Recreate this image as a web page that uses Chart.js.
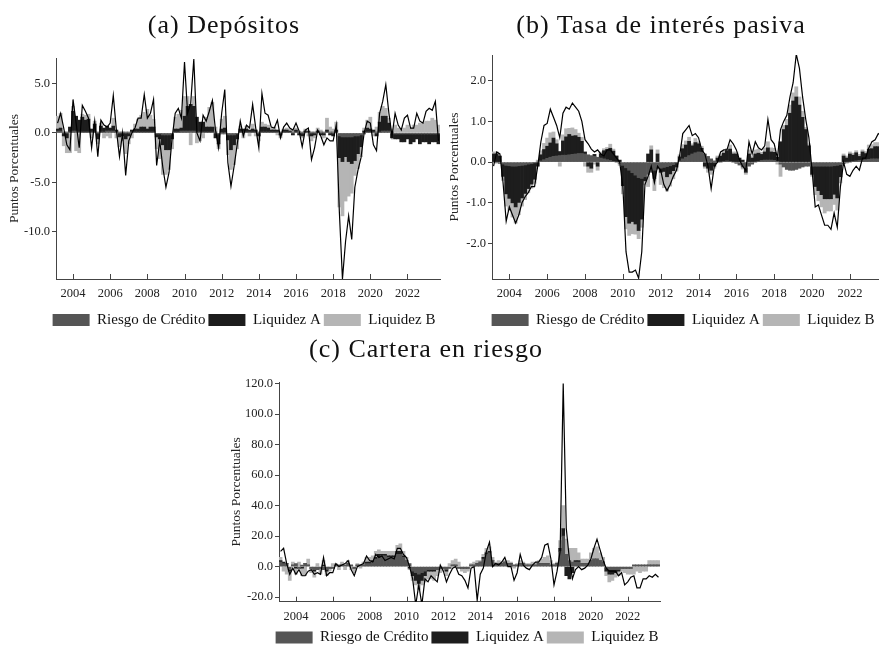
<!DOCTYPE html>
<html lang="es">
<head>
<meta charset="utf-8">
<script src="https://cdn.jsdelivr.net/npm/chart.js@4.4.1/dist/chart.umd.min.js"></script>
<style>
  html, body { margin: 0; padding: 0; background: #fff; }
  body { position: relative; width: 879px; height: 650px; overflow: hidden; }
  canvas { position: absolute; }
  .titulo {
    position: absolute; white-space: nowrap; transform: translateX(-50%);
    font-family: "Liberation Serif", serif; font-size: 26px; letter-spacing: 1px;
    line-height: 26px; color: #111; z-index: 2;
  }
</style>
</head>
<body>
<div class="titulo" style="left:224px; top:12px;">(a) Depósitos</div>
<div class="titulo" style="left:661px; top:12px;">(b) Tasa de interés pasiva</div>
<div class="titulo" style="left:426px; top:336px;">(c) Cartera en riesgo</div>

<canvas id="chartDepositos" width="490" height="340" style="left:0; top:0;"></canvas>
<canvas id="chartTasa" width="488" height="340" style="left:440px; top:0;"></canvas>
<canvas id="chartCartera" width="492" height="320" style="left:222px; top:340px;"></canvas>

<script>
// Fechas bimestrales (mar-2003 ... sep-2023)
const fechas = [];
for (let a = 2003; a <= 2023; a++) {
    for (let m = 1; m <= 11; m += 2) {
        if ((a === 2003 && m < 3) || (a === 2023 && m > 9)) continue;
        fechas.push(a + "-" + String(m).padStart(2, "0"));
    }
}
const aniosEtiqueta = [2004, 2006, 2008, 2010, 2012, 2014, 2016, 2018, 2020, 2022];
const nombres = ["Riesgo de Crédito", "Liquidez A", "Liquidez B"];

// (a) Depósitos
const depTotal = [1.0, 2.0, 0.5, -1.2, -1.7, 3.4, 1.0, -1.5, 2.8, 2.2,
    1.5, -1.5, 1.2, -2.4, 1.3, 0.8, 0.6, 1.0, 3.8, 0.3,
    -2.4, 0.0, -4.3, -0.8, 0.0, 0.5, 1.5, 1.5, 3.9, 1.5,
    2.0, 3.4, -3.3, -0.8, -3.5, -5.5, -4.0, -0.5, 2.0, 2.5,
    1.5, 7.2, 2.0, 3.0, 7.5, 0.0, -0.8, 1.8, 1.2, 2.2,
    3.3, 0.3, -1.5, 2.0, 4.4, -3.0, -5.4, -3.4, -1.2, 1.2,
    -0.3, 0.8, 0.5, 2.9, 0.5, -1.5, 4.0, 2.0, 1.8, 0.6,
    0.5, 1.3, -0.5, 0.6, 1.0, 0.5, 0.3, 1.0, 0.2, -1.4,
    0.3, 0.5, -2.7, -1.5, 0.3, -0.3, -1.2, -0.5, -0.8, -0.8,
    0.8, -8.0, -14.8, -11.0, -8.4, -10.8, -5.5, -3.8, -2.5, 0.0,
    1.2, 1.0, -1.2, -1.8, 2.0, 3.2, 4.9, 2.0, -0.3, 2.0,
    0.8, 0.3, 1.5, 1.8, 0.5, 0.5, 2.0, 1.2, 1.0, 2.2,
    2.5, 2.3, 3.2, -0.8];
const depRiesgo = [0.2, 0.2, 0.1, 0.1, 0.1, 0.2, 0.2, 0.1, 0.1, 0.1,
    0.1, 0.1, 0.1, 0.1, 0.1, 0.1, 0.2, 0.2, 0.2, 0.1,
    0.1, 0.1, 0.1, 0.1, 0.1, 0.1, 0.1, 0.1, 0.1, 0.1,
    0.1, 0.1, -0.1, -0.1, -0.2, -0.2, -0.2, -0.1, 0.1, 0.1,
    0.2, 0.2, 0.2, 0.2, 0.2, 0.1, 0.1, 0.1, 0.1, 0.1,
    0.1, 0.1, -0.1, -0.1, -0.1, -0.2, -0.2, -0.2, -0.1, 0.1,
    0.1, 0.1, 0.1, 0.1, 0.1, 0.1, 0.1, 0.1, 0.1, 0.1,
    0.1, 0.1, 0.1, 0.1, 0.1, 0.1, 0.1, 0.1, 0.1, 0.1,
    0.1, 0.1, 0.1, 0.1, 0.1, 0.1, 0.1, 0.1, 0.1, 0.1,
    0.1, -0.3, -0.4, -0.4, -0.4, -0.4, -0.3, -0.3, -0.2, -0.1,
    0.1, 0.1, 0.1, 0.1, 0.1, 0.2, 0.2, 0.2, 0.1, -0.1,
    -0.1, -0.1, -0.1, -0.1, -0.1, -0.1, -0.1, -0.1, -0.1, -0.1,
    -0.1, -0.1, -0.1, -0.1];
const depLiqA = [0.2, 0.3, -0.3, -0.5, 0.5, 2.0, 1.5, 1.2, 1.5, 1.2,
    1.3, 0.3, 0.8, -0.6, 0.6, 0.4, 0.5, 0.3, 0.5, 0.2,
    -0.4, -0.3, -0.6, -0.3, 0.2, 0.3, 0.3, 0.5, 0.5, 0.3,
    0.5, 0.5, -0.3, -0.5, -1.0, -1.5, -1.5, -0.5, 0.3, 0.3,
    0.3, 1.5, 2.5, 2.7, 2.5, 1.5, 1.0, 1.0, 0.5, 0.5,
    0.5, -0.5, -1.0, 0.4, 0.5, -0.5, -1.5, -1.0, -0.5, 0.3,
    0.3, 0.3, 0.2, 0.3, 0.2, -0.3, 0.5, 0.5, 0.4, 0.2,
    0.2, 0.2, -0.2, 0.2, 0.2, 0.1, -0.2, 0.2, -0.2, -0.3,
    0.1, 0.1, -0.3, -0.2, 0.1, -0.2, -0.2, 0.2, -0.2, -0.3,
    0.2, -2.2, -2.5, -2.0, -2.5, -2.7, -2.5, -1.8, -1.2, 0.2,
    0.4, 0.3, 0.2, -0.3, 1.0, 1.5, 1.5, 0.8, -0.5, -0.5,
    -0.5, -0.8, -0.8, -0.5, -1.0, -0.8, -0.5, -1.0, -0.8, -0.8,
    -1.0, -0.8, -0.8, -1.0];
const depLiqB = [1.3, 1.5, -1.0, -1.5, -2.0, 0.5, -1.8, -2.0, 0.3, 0.5,
    0.5, -0.5, 0.3, -0.5, 0.3, -0.5, -0.3, -0.5, 0.8, -0.5,
    -1.0, -0.5, -1.5, -0.8, -0.5, 0.5, 1.0, 1.2, 1.5, 2.0,
    1.2, 0.8, -1.2, -2.0, -3.0, -2.5, -2.0, -1.0, 1.2, 1.5,
    1.8, 2.0, 1.0, -1.2, 1.0, -1.0, -0.8, -0.5, 1.0, 2.0,
    2.5, 0.5, -0.5, 1.0, 1.2, -1.5, -2.0, -2.0, -1.0, 0.3,
    -0.5, 0.3, -0.3, 0.5, -0.3, -0.5, 0.5, 0.3, 0.3, 0.2,
    0.3, -0.2, -0.3, 0.1, 0.2, 0.2, 0.2, 0.2, 0.1, -0.2,
    0.2, -0.3, -0.5, -0.3, 0.3, 0.2, -0.3, 1.2, 0.5, 0.3,
    0.8, -5.0, -5.5, -4.5, -3.5, -3.0, -1.5, -1.5, -1.0, 0.3,
    0.8, 1.2, -0.3, 0.5, 1.0, 1.0, 0.8, 0.5, 0.3, 0.8,
    0.5, 0.3, 0.5, 0.8, 0.5, 0.8, 0.8, 1.0, 1.0, 1.2,
    1.2, 1.5, 1.3, 0.8];

// (b) Tasa de interés pasiva
const tasaTotal = [-0.1, 0.25, 0.2, -0.5, -1.45, -1.1, -1.3, -1.5, -1.3, -1.0,
    -0.85, -0.75, -0.6, -0.6, -0.1, 0.5, 0.9, 0.95, 1.3, 1.1,
    0.9, 0.6, 1.2, 1.35, 1.3, 1.45, 1.35, 1.25, 1.0, 0.55,
    0.45, 0.32, 0.25, 0.3, 0.2, 0.15, 0.3, 0.3, 0.2, 0.1,
    0.0, -0.6, -2.2, -2.7, -2.7, -2.65, -2.85, -2.2, -0.55, -0.35,
    -0.1, -0.5, -0.1, -0.2, -0.55, -0.7, -0.55, -0.35, -0.2, 0.15,
    0.7, 0.8, 0.9, 0.65, 0.7, 0.6, 0.3, 0.2, -0.1, -0.65,
    -0.1, 0.0, 0.25, 0.3, 0.3, 0.55, 0.45, 0.3, 0.05, -0.1,
    -0.2, 0.5, 0.2, 0.5, 0.35, 0.3, 0.4, 1.05, 0.55, 0.45,
    0.1, 0.8, 1.0, 1.15, 1.6, 1.95, 2.65, 2.3, 1.6, 1.05,
    0.6, -0.2, -1.1, -1.05, -1.3, -1.55, -1.55, -1.65, -1.25, -1.6,
    -0.6, 0.0, -0.3, -0.35, -0.2, -0.1, -0.2, 0.1, 0.1, 0.35,
    0.5, 0.55, 0.7, 0.65];
const tasaRiesgo = [0.0, -0.02, -0.03, -0.05,
    -0.08, -0.09, -0.1, -0.1, -0.09, -0.08, -0.07, -0.05, -0.04, -0.02, 0.0,
    0.03, 0.06, 0.09, 0.12, 0.14, 0.15, 0.16, 0.17, 0.17, 0.18, 0.19, 0.2, 0.21, 0.21, 0.2, 0.18, 0.16, 0.14,
    0.12, 0.1, 0.08, 0.06, 0.04, 0.02, 0.0, -0.03,
    -0.08, -0.14, -0.2, -0.26, -0.32, -0.38, -0.4,
    -0.36, -0.3, -0.25, -0.2, -0.17, -0.15, -0.13, -0.11, -0.09, -0.06,
    -0.02, 0.03, 0.08, 0.12, 0.16, 0.2, 0.23, 0.25, 0.24, 0.2, 0.14,
    0.08, 0.03, 0.0, 0.0,
    0.02, 0.03, 0.02, 0.0, -0.03, -0.07, -0.12, -0.15,
    -0.1, -0.05, 0.0, 0.02, 0.04, 0.05, 0.05, 0.05, 0.04, 0.02,
    -0.05, -0.12, -0.18, -0.2, -0.2, -0.18, -0.15, -0.12, -0.1,
    -0.1, -0.1, -0.1, -0.1, -0.1, -0.1, -0.1, -0.1, -0.09, -0.08, -0.06,
    -0.04, -0.02, 0.0, 0.02, 0.03, 0.04, 0.05, 0.06, 0.07, 0.08, 0.08, 0.08, 0.08];
const tasaLiqA = [0.2, 0.2, 0.15, -0.3, -0.7, -0.8, -0.9, -1.0, -0.9, -0.8,
    -0.7, -0.6, -0.5, -0.4, -0.1, 0.15, 0.25, 0.3, 0.35, 0.45,
    0.3, 0.1, 0.35, 0.45, 0.5, 0.45, 0.45, 0.4, 0.3, 0.05,
    -0.1, -0.15, 0.05, -0.1, 0.1, 0.2, 0.25, 0.3, 0.25, 0.15,
    0.05, -0.5, -1.2, -1.3, -1.2, -1.2, -1.3, -1.0, -0.1, 0.2,
    0.3, -0.2, 0.2, -0.1, -0.1, -0.25, -0.2, -0.15, -0.1, 0.1,
    0.25, 0.3, 0.35, 0.2, 0.25, 0.2, 0.1, -0.1, -0.15, -0.2,
    -0.1, 0.1, 0.15, 0.2, 0.25, 0.3, 0.2, 0.2, 0.1, 0.05,
    -0.1, 0.2, 0.1, 0.2, 0.2, 0.15, 0.2, 0.3, 0.2, 0.2,
    0.1, 0.5, 0.8, 0.9, 1.2, 1.5, 1.6, 1.4, 1.1, 0.8,
    0.4, -0.2, -0.5, -0.6, -0.7, -0.8, -0.8, -0.8, -0.7, -0.8,
    -0.3, 0.15, 0.1, 0.2, 0.15, 0.2, 0.1, 0.2, 0.15, 0.25,
    0.25, 0.3, 0.3, 0.3];
const tasaLiqB = [0.05, 0.05, 0.0, -0.1, -0.3, -0.3, -0.35, -0.4, -0.3, -0.2,
    -0.15, -0.1, -0.1, -0.1, 0.05, 0.1, 0.15, 0.2, 0.25, 0.15,
    0.1, -0.1, 0.15, 0.2, 0.15, 0.2, 0.15, 0.1, 0.1, -0.1,
    -0.15, -0.1, -0.05, -0.1, 0.05, 0.05, 0.05, 0.1, 0.05, 0.0,
    -0.05, -0.2, -0.3, -0.3, -0.3, -0.25, -0.2, -0.2, -0.1, -0.3,
    0.1, -0.3, 0.1, -0.3, -0.4, -0.35, -0.3, -0.2, -0.1, 0.05,
    0.1, 0.1, 0.1, 0.05, 0.1, 0.05, 0.05, -0.05, -0.1, -0.1,
    -0.05, 0.05, 0.05, 0.05, 0.05, 0.1, 0.05, 0.05, 0.0, -0.05,
    -0.05, 0.1, 0.05, 0.1, 0.1, 0.05, 0.1, 0.15, 0.1, 0.1,
    -0.05, -0.3, 0.1, 0.15, 0.2, 0.2, 0.25, 0.2, 0.15, 0.05,
    0.05, -0.05, -0.2, -0.25, -0.3, -0.35, -0.3, -0.3, -0.25, -0.3,
    -0.15, 0.05, 0.05, 0.05, 0.05, 0.05, 0.05, 0.05, 0.05, 0.1,
    0.1, 0.1, 0.1, 0.1];

// (c) Cartera en riesgo
const carTotal = [10, 12, 2, -5, -1, -5, -2, -6, -6, -3,
    -2, -5, -4, -5, 6, -6, -4, -4, 2, 0,
    1, 2, 4, -2, -6, 0, 1, 2, 7, 4,
    3, 8, 6, 7, 4, 5, 6, 5, 12, 12,
    8, 6, 0, -8, -25, -12, -25, -8, -10, -6,
    -8, -10, 1, -3, -10, -5, -1, 0, -5, -6,
    -9, -14, -1, 0, -22, -5, -1, 10, 16, 0,
    2, 1, 3, 6, 0, 0, -9, -4, 8, 1,
    -1, -2, 1, 3, 3, 6, 14, 15, 5, -12,
    -3, 10, 120, 25, 5, -8, -2, 0, -2, -1,
    1, 5, 12, 18, 11, 4, -1, -3, -3, -3,
    -6, -4, -12, -10, -7, -6, -14, -14, -8, -8,
    -6, -7, -5, -7];
const carRiesgo = [3, 2, 2, -2, 1, 2, -1, 1, 2, 1,
    -1, -2, -2, -1, -2, -2, -1, -1, 1, 1,
    1, 1, 2, 1, -1, 1, 1, 1, 2, 2,
    3, 5, 6, 7, 7, 6, 6, 6, 8, 8,
    6, 4, 2, -3, -4, -5, -4, -3, -2, -2,
    -2, -2, -1, -1, -2, -1, 1, 1, -1, -1,
    -1, -1, 1, 1, 2, 3, 5, 8, 9, 4,
    2, 2, 2, 3, 2, 2, 1, 1, 2, 2,
    1, 1, 1, 1, 2, 2, 2, 2, 1, 1,
    2, 10, 20, 8, 4, 3, 3, 3, 2, 2,
    2, 4, 5, 5, 4, 3, -1, -2, -2, -2,
    -2, -1, -1, -1, -1, 1, 1, 1, 1, 1,
    1, 1, 1, 1];
const carLiqA = [1, 1, 0, -1, 0, -1, 0, -1, 0, 0,
    0, -1, 0, 0, 1, -1, 0, 0, 0, 0,
    0, 0, 0, 0, 0, 0, 0, 0, 1, 1,
    1, 1, 2, 1, 1, 1, 1, 1, 2, 2,
    1, 0, -1, -3, -5, -6, -5, -3, -1, -1,
    -1, 0, 0, 0, -1, 0, 0, 0, 0, 0,
    0, 0, 0, 0, 0, 0, 1, 1, 1, 0,
    0, 0, 0, 0, 0, 0, 0, 0, 0, 0,
    0, 0, 0, 0, 0, 0, 0, 0, 0, 0,
    0, 2, 5, -6, -8, -4, 1, 1, 0, 0,
    0, 0, 0, 0, 0, 0, -2, -3, -3, -2,
    -1, 0, 0, 0, 0, 0, 0, 0, 0, 0,
    0, 0, 0, 0];
const carLiqB = [2, -3, -5, -6, 2, -4, 3, -5, -6, 4,
    -3, -4, 2, -4, 3, -3, -2, 2, 1, -2,
    2, -2, 2, -2, -3, 1, -1, 2, 3, 3,
    3, 4, 3, 2, 2, 3, 3, 3, 4, 5,
    3, 2, -1, -3, -3, -4, -3, -4, -5, -5,
    -6, -4, -3, -2, -3, 2, 3, 4, 3, -2,
    -3, -2, 1, 2, 2, 1, 2, 3, 3, 2,
    1, 2, 1, 1, 2, 1, -1, 1, 2, 1,
    1, 1, 2, 2, 2, 3, 4, 5, 3, 1,
    1, 5, 15, 10, 8, 9, 8, 5, 3, 3,
    3, 5, 7, 8, 5, 3, -3, -5, -4, -3,
    -3, -2, -3, -4, -4, -5, -3, -4, -3, -3,
    3, 3, 3, 3];

const ticksDep = [-10, -5, 0, 5];
const ticksTasa = [-2, -1, 0, 1, 2];
const ticksCar = [-20, 0, 20, 40, 60, 80, 100, 120];

const colores = ["#555555", "#1d1d1d", "#b5b5b5"];
Chart.defaults.font.family = "'Liberation Serif', serif";
Chart.defaults.color = "#222";

// marcas del eje x hacia dentro del área
const marcasX = {
    id: "marcasX",
    afterDraw(chart) {
        const esc = chart.scales.x;
        const ctx = chart.ctx;
        ctx.save();
        ctx.strokeStyle = "#444";
        ctx.lineWidth = 1;
        esc.ticks.forEach(function (t, i) {
            if (!t.label) return;
            const x = Math.round(esc.getPixelForTick(i)) + 0.5;
            ctx.beginPath();
            ctx.moveTo(x, esc.top);
            ctx.lineTo(x, esc.top - 5);
            ctx.stroke();
        });
        ctx.restore();
    }
};

function crearPanel(id, riesgo, liqA, liqB, total, cfg) {
    const ctx = document.getElementById(id).getContext("2d");
    return new Chart(ctx, {
        type: "bar",
        data: {
            labels: fechas,
            datasets: [
                { label: nombres[0], data: riesgo, backgroundColor: colores[0], borderWidth: 0, order: 1 },
                { label: nombres[1], data: liqA, backgroundColor: colores[1], borderWidth: 0, order: 1 },
                { label: nombres[2], data: liqB, backgroundColor: colores[2], borderWidth: 0, order: 1 },
                { type: "line", label: "Total", data: total, borderColor: "#000", borderWidth: 1.2,
                  pointRadius: 0, tension: 0, fill: false, order: 0 }
            ]
        },
        options: {
            responsive: false,
            animation: false,
            layout: { padding: cfg.padding },
            datasets: { bar: { categoryPercentage: 1.0, barPercentage: 1.0 } },
            plugins: {
                tooltip: { enabled: false },
                legend: {
                    position: "bottom",
                    labels: {
                        filter: item => item.datasetIndex < 3,
                        boxWidth: 37, boxHeight: 12, padding: 3,
                        color: "#111",
                        font: { size: 15 }
                    }
                }
            },
            scales: {
                x: {
                    stacked: true,
                    grid: { display: false, drawTicks: false },
                    border: { display: true, color: "#444", width: 1 },
                    ticks: {
                        autoSkip: false, maxRotation: 0, padding: cfg.xPad,
                        font: { size: 12.5 }, color: "#222",
                        callback: function (value, index) {
                            const f = fechas[index];
                            const anio = Number(f.slice(0, 4));
                            return (f.slice(5) === "01" && aniosEtiqueta.includes(anio)) ? String(anio) : "";
                        }
                    },
                    afterFit: s => { s.height = cfg.xAlto; }
                },
                y: {
                    stacked: true,
                    min: cfg.min, max: cfg.max,
                    grid: { drawOnChartArea: false, tickLength: 4, color: "#444" },
                    border: { display: true, color: "#444", width: 1 },
                    afterBuildTicks: s => { s.ticks = cfg.ticks.map(v => ({ value: v })); },
                    ticks: { padding: 2, font: { size: 12.5 }, color: "#222",
                             callback: v => v.toFixed(1) },
                    title: { display: true, text: "Puntos Porcentuales", color: "#222",
                             font: { size: 13.5 }, padding: { top: 6, bottom: 0 } },
                    afterFit: s => { s.width = cfg.yAncho; }
                },
                // eje vacío a la derecha: solo reserva espacio para centrar la leyenda
                hueco: {
                    type: "linear", position: "right", display: true,
                    grid: { display: false, drawTicks: false },
                    border: { display: false },
                    ticks: { display: false },
                    afterFit: s => { s.width = cfg.hueco; }
                }
            }
        },
        plugins: [marcasX]
    });
}

crearPanel("chartDepositos", depRiesgo, depLiqA, depLiqB, depTotal, {
    min: -14.8, max: 7.6, ticks: ticksDep, yAncho: 56, xAlto: 30.5, xPad: 7, hueco: 48,
    padding: { top: 58, right: 2, bottom: 2.5, left: 0 }
});
crearPanel("chartTasa", tasaRiesgo, tasaLiqA, tasaLiqB, tasaTotal, {
    min: -2.87, max: 2.63, ticks: ticksTasa, yAncho: 52, xAlto: 30.5, xPad: 7, hueco: 43,
    padding: { top: 55, right: 2, bottom: 2.5, left: 0 }
});
crearPanel("chartCartera", carRiesgo, carLiqA, carLiqB, carTotal, {
    min: -23, max: 121, ticks: ticksCar, yAncho: 57, xAlto: 25.3, xPad: 8, hueco: 52,
    padding: { top: 42, right: 2, bottom: 5, left: 0 }
});
</script>
</body>
</html>
